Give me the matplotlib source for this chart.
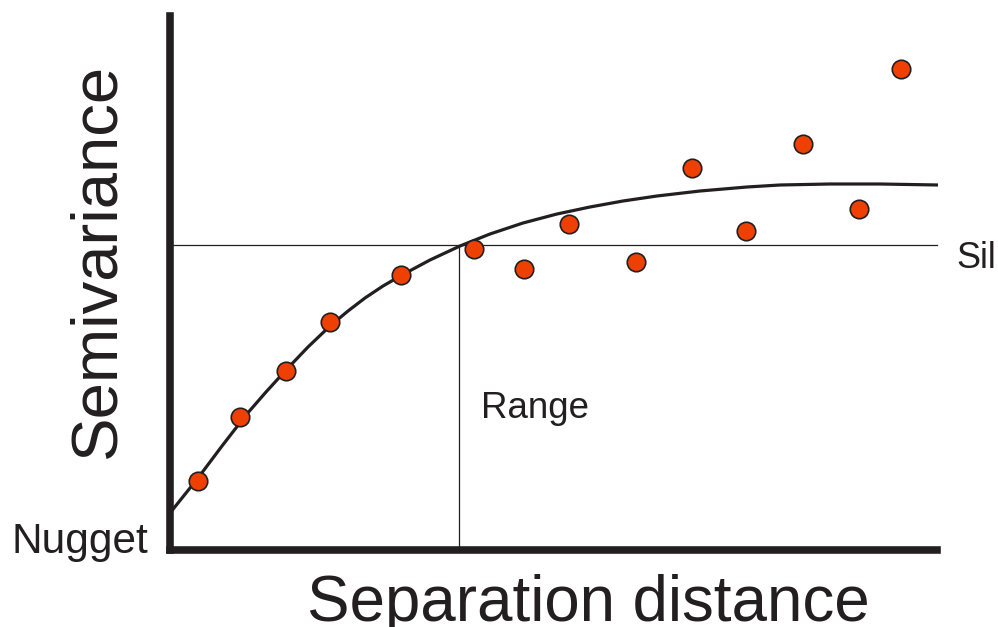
import matplotlib
matplotlib.use("Agg")
import matplotlib.pyplot as plt

plt.rcParams['font.family'] = ['Liberation Sans', 'DejaVu Sans']

# observed semivariance points (distance, semivariance)
obs_dist = [28, 70, 116, 160, 231, 304, 354, 399, 466, 522, 576, 633, 689, 731]
obs_semi = [69, 133, 179, 228, 275, 301, 281, 326, 288, 382, 319, 406, 341, 481]

# fitted model curve
model_dist = [0, 28, 52, 76, 96, 117, 138, 160, 178, 195, 213, 232, 260, 290, 320, 353,
              387, 420, 453, 487, 530, 577, 610, 660, 710, 768]
model_semi = [37, 72, 104, 135, 158, 181, 203, 224, 239, 252, 264, 275, 290, 304, 316, 327,
              336, 343, 349, 354, 359, 363, 365, 366, 366, 365]

sill_value = 305
range_value = 289
sill_end = 767

INK = '#231f20'
DOT = '#ee4000'

W, H = 998, 627
fig = plt.figure(figsize=(W / 100, H / 100), dpi=100)
x0, x1 = 169.5, 936.5
y0, y1 = 550, 15.7
ax = fig.add_axes([x0 / W, (H - y0) / H, (x1 - x0) / W, (y0 - y1) / H])
ax.set_xlim(-0.5, x1 - 170)
ax.set_ylim(0, y0 - y1)
ax.set_xticks([])
ax.set_yticks([])
for s in ['top', 'right']:
    ax.spines[s].set_visible(False)
for s in ['left', 'bottom']:
    ax.spines[s].set_linewidth(7.6 * 72 / 100)
    ax.spines[s].set_color(INK)
    ax.spines[s].set_capstyle('projecting')
    ax.spines[s].set_zorder(5)

ax.plot([0, sill_end], [sill_value, sill_value], color=INK, lw=0.9, clip_on=False, zorder=1)
ax.plot([range_value, range_value], [0, sill_value], color=INK, lw=0.9, clip_on=False, zorder=1)
ax.plot(model_dist, model_semi, color=INK, lw=2.3, clip_on=False, zorder=2,
        solid_capstyle='butt', solid_joinstyle='round')
ax.plot(obs_dist, obs_semi, 'o', ms=13.3, mfc=DOT, mec=INK, mew=1.2, clip_on=False, zorder=3)

fig.text(148 / W, 1 - 553 / H, 'Nugget', ha='right', va='baseline', fontsize=30.5, color=INK)
fig.text(481 / W, 1 - 418 / H, 'Range', ha='left', va='baseline', fontsize=26.5, color=INK)
fig.text(956 / W, 1 - 268 / H, 'Sill', ha='left', va='baseline', fontsize=26, color=INK)
fig.text(588 / W, 1 - 621 / H, 'Separation distance', ha='center', va='baseline',
         fontsize=45.8, color=INK)
fig.text(97 / W, 1 - 260 / H, 'Semivariance', ha='center', va='center', rotation=90,
         rotation_mode='anchor', fontsize=47, color=INK)

fig.savefig('out.png', dpi=100)
